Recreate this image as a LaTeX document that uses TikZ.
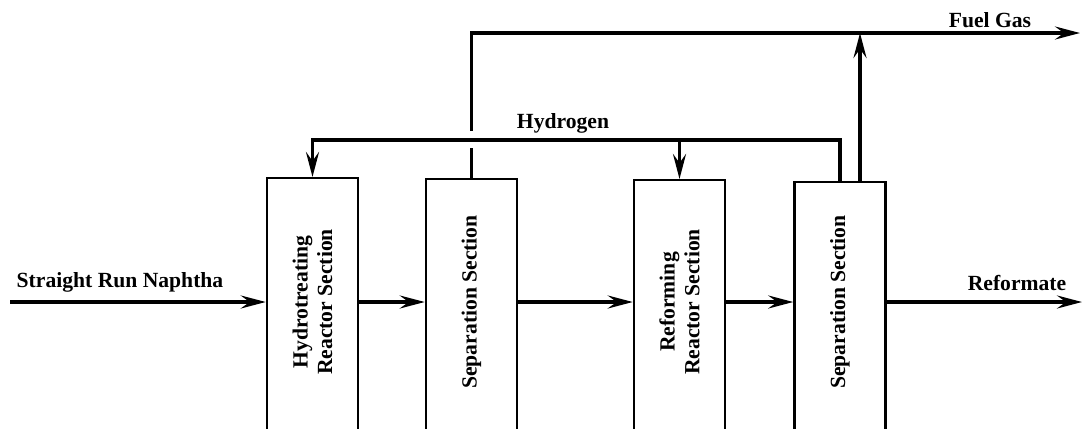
\documentclass[tikz,border=0pt]{standalone}
\usepackage{fontspec}
\setmainfont{Liberation Serif}
\usetikzlibrary{arrows.meta, positioning, calc}

\begin{document}
\begin{tikzpicture}[
  unitbox/.style={draw, line width=1.4pt, minimum width=1.82cm, minimum height=5.4cm, anchor=north, inner sep=0pt},
  utext/.style={rotate=90, align=center, inner sep=0pt, font=\bfseries\fontsize{12.3}{14}\selectfont},
  flow/.style={line width=2pt, -{Stealth[length=5mm, width=2.6mm, inset=1.8mm]}},
  pipe/.style={line width=2pt},
  lbl/.style={inner sep=1pt, font=\bfseries\fontsize{12.3}{15}\selectfont}
]
  \useasboundingbox (0,0) rectangle (21.66,8.56);

  \coordinate (mid) at (0,2.52);
  \coordinate (h2) at (0,5.76);
  \coordinate (gaplo) at (0,5.6);
  \coordinate (gaphi) at (0,5.94);
  \coordinate (top) at (0,7.9);
  \coordinate (feed) at (0.2,2.52);
  \coordinate (prod) at (21.64,2.52);
  \coordinate (fuel) at (21.6,7.9);

  \node[unitbox] (ht) at (6.25,5.02) {};
  \node[unitbox] (sep1) at (9.43,5.0) {};
  \node[unitbox] (ref) at (13.59,4.98) {};
  \node[unitbox] (sep2) at (16.8,4.94) {};

  \node[utext] (ht-text) at (ht.north |- mid) {Hydrotreating\\Reactor Section};
  \node[utext] (sep1-text) at (sep1.north |- mid) {Separation Section};
  \node[utext] (ref-text) at (ref.north |- mid) {Reforming\\Reactor Section};
  \node[utext] (sep2-text) at (sep2.north |- mid) {Separation Section};

  \draw[flow] (feed) -- (feed -| ht.west);
  \draw[flow] (feed -| ht.east) -- (feed -| sep1.west);
  \draw[flow] (feed -| sep1.east) -- (feed -| ref.west);
  \draw[flow] (feed -| ref.east) -- (feed -| sep2.west);
  \draw[flow] (feed -| sep2.east) -- (prod);

  \draw[flow] (sep2.north) -- (sep2.north |- h2) -- (h2 -| ht.north) -- (ht.north);
  \draw[flow] (h2 -| ref.north) -- (ref.north);

  \draw[pipe] (sep1.north) -- (sep1.north |- gaplo);
  \draw[flow] (sep1.north |- gaphi) -- (sep1.north |- top) -- (fuel);
  \coordinate (riser) at ($(sep2.north)+(0.4,0)$);
  \draw[flow] (riser) -- (riser |- top);

  \node[lbl] (naphtha) at (2.4,2.92) {Straight Run Naphtha};
  \node[lbl] (reformate) at (20.34,2.9) {Reformate};
  \node[lbl] (fuelgas) at (19.8,8.16) {Fuel Gas};
  \node[lbl] (hydrogen) at (11.26,6.1) {Hydrogen};
\end{tikzpicture}
\end{document}
